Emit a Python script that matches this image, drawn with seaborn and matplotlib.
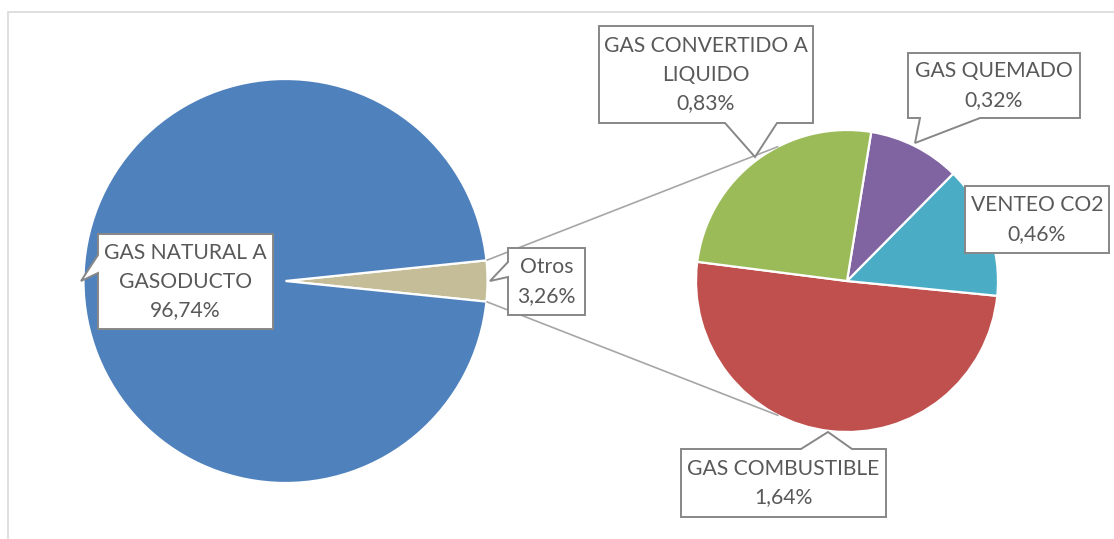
import numpy as np
import matplotlib
matplotlib.use("Agg")
import matplotlib.pyplot as plt
from matplotlib.patches import Polygon, Rectangle
import seaborn as sns

# ---------------- data ----------------
main_labels = ["Otros", "GAS NATURAL A\nGASODUCTO"]
main_values = [3.26, 96.74]
sub_labels = ["GAS COMBUSTIBLE", "VENTEO CO2", "GAS QUEMADO", "GAS CONVERTIDO A\nLIQUIDO"]
sub_values = [1.64, 0.46, 0.32, 0.83]

main_colors = ["#C4BD97", "#4F81BD"]
sub_colors = ["#C0504D", "#4BACC6", "#8064A2", "#9BBB59"]

# ---------------- style ----------------
sns.set_theme(style="white")
plt.rcParams["font.family"] = ["Lato", "DejaVu Sans"]

W, H = 1114, 539
fig = plt.figure(figsize=(W / 100, H / 100), dpi=100)
ax = fig.add_axes([0, 0, 1, 1])


def Y(y):
    return H - y


main_center = (285.5, Y(281))
main_r = 202
sub_center = (847, Y(281))
sub_r = 151

wp = dict(edgecolor="white", linewidth=1.6)
half = main_values[0] / sum(main_values) * 180.0
ax.pie(main_values, colors=sns.color_palette(main_colors), startangle=-half,
       counterclock=True, center=main_center, radius=main_r, wedgeprops=wp)
ax.pie(sub_values, colors=sns.color_palette(sub_colors), startangle=172.7,
       counterclock=True, center=sub_center, radius=sub_r, wedgeprops=wp)

# connector lines (pie of pie)
for s in (1, -1):
    a0 = np.deg2rad(s * half)
    a1 = np.deg2rad(s * 117)
    p0 = (main_center[0] + main_r * np.cos(a0), main_center[1] + main_r * np.sin(a0))
    p1 = (sub_center[0] + sub_r * np.cos(a1), sub_center[1] + sub_r * np.sin(a1))
    ax.plot([p0[0], p1[0]], [p0[1], p1[1]], color="#A6A6A6", lw=1.2, zorder=1.5,
            solid_capstyle="butt")

# chart area frame
ax.add_patch(Rectangle((8, Y(H + 20)), W + 20, H + 8, fill=False,
                       edgecolor="#D9D9D9", lw=1.2, zorder=0.5))


def fmt(v):
    return f"{v:.2f}".replace(".", ",") + "%"


def callout(box, text, pointer=None):
    x0, y0, x1, y1 = box
    pts = [(x0, y0)]
    if pointer and pointer[0] == "top":
        _, a, b, tip = pointer
        pts += [(a, y0), tip, (b, y0)]
    pts += [(x1, y0), (x1, y1)]
    if pointer and pointer[0] == "bottom":
        _, a, b, tip = pointer
        pts += [(b, y1), tip, (a, y1)]
    pts += [(x0, y1)]
    if pointer and pointer[0] == "left":
        _, a, b, tip = pointer
        pts += [(x0, b), tip, (x0, a)]
    poly = Polygon([(px, Y(py)) for px, py in pts], closed=True,
                   facecolor="white", edgecolor="#878787", lw=1.4, zorder=5,
                   joinstyle="miter")
    ax.add_patch(poly)
    ax.text((x0 + x1) / 2, Y((y0 + y1) / 2), text, ha="center", va="center",
            ma="center", fontsize=15.2, color="#595959", linespacing=1.52, zorder=6)


callout((98, 234, 273, 329), main_labels[1] + "\n" + fmt(main_values[1]),
        ("left", 255, 273, (81, 281)))
callout((508, 248, 585, 315), main_labels[0] + "\n" + fmt(main_values[0]),
        ("left", 262, 277, (490, 281)))
callout((599, 26, 813, 123), sub_labels[3] + "\n" + fmt(sub_values[3]),
        ("bottom", 725, 777, (755, 157)))
callout((908, 53, 1080, 118), sub_labels[2] + "\n" + fmt(sub_values[2]),
        ("bottom", 920, 980, (915, 143)))
callout((965, 186, 1109, 253), sub_labels[1] + "\n" + fmt(sub_values[1]))
callout((681, 449, 886, 517), sub_labels[0] + "\n" + fmt(sub_values[0]),
        ("top", 801, 852, (828, 432)))

ax.set_xlim(0, W)
ax.set_ylim(0, H)
ax.set_aspect("equal")
ax.axis("off")

fig.savefig("out.png", dpi=100, facecolor="white")
